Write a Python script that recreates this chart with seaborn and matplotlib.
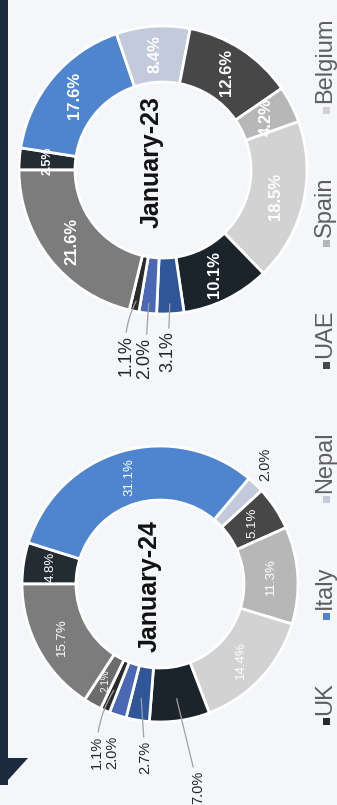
import matplotlib
matplotlib.use("Agg")
import matplotlib.pyplot as plt
from matplotlib.patches import Rectangle, Polygon
import numpy as np
import seaborn as sns

# ---- data -------------------------------------------------------------
legend_countries = ["UK", "Italy", "Nepal", "UAE", "Spain", "Belgium"]
slice_colors = ["#242c33", "#4f84cf", "#c3cadb", "#474747", "#b7b7b7", "#d2d2d2",
                "#1b242b", "#2f5698", "#4a68b4", "#2b2b2b", "#6c6c6c", "#7c7c7c"]
jan24_values = [4.8, 31.1, 2.0, 5.1, 11.3, 14.4, 7.0, 2.7, 2.0, 1.1, 2.1, 15.7]
jan23_values = [2.5, 17.6, 8.4, 12.6, 4.2, 18.5, 10.1, 3.1, 2.0, 1.1, 0.0, 21.6]
titles = ["January-24", "January-23"]

# ---- style ------------------------------------------------------------
sns.set_style("white")
plt.rcParams["font.family"] = ["Liberation Sans", "DejaVu Sans"]
BG = "#f4f6f9"

W, H = 337, 805
fig = plt.figure(figsize=(W / 100, H / 100), dpi=100, facecolor=BG)
ax = fig.add_axes([0, 0, 1, 1])
ax.set_facecolor(BG)


def donut(values, center, r_out, r_in, title, title_pos, in_size, in_weight,
          ext_layout, ext_size):
    cx, cy = center
    idx = [i for i, v in enumerate(values) if v > 0]
    wedges, _ = ax.pie([values[i] for i in idx],
                       colors=[slice_colors[i] for i in idx],
                       startangle=180, counterclock=True,
                       radius=r_out, center=center,
                       wedgeprops=dict(width=r_out - r_in, edgecolor="white",
                                       linewidth=2))
    for w, i in zip(wedges, idx):
        mid = np.deg2rad((w.theta1 + w.theta2) / 2)
        label = f"{values[i]:.1f}%"
        if i in ext_layout:
            dx, dy, leader, rfrac, rad = ext_layout[i]
            tx, ty = cx + dx, cy + dy
            if leader:
                px = cx + r_out * rfrac * np.cos(mid)
                py = cy + r_out * rfrac * np.sin(mid)
                ax.annotate(label, xy=(px, py), xytext=(tx, ty), rotation=90,
                            ha="center", va="center", fontsize=ext_size,
                            color="#262626",
                            arrowprops=dict(arrowstyle="-", color="#a0a0a0",
                                            lw=0.9, shrinkA=0, shrinkB=0,
                                            connectionstyle=f"arc3,rad={rad}"))
            else:
                ax.text(tx, ty, label, rotation=90, ha="center", va="center",
                        fontsize=ext_size, color="#262626")
        else:
            r = (r_out + r_in) / 2
            fs = in_size if values[i] >= 3 else in_size * 0.75
            ax.text(cx + r * np.cos(mid), cy + r * np.sin(mid), label,
                    rotation=90, ha="center", va="center", fontsize=fs,
                    color="white", fontweight=in_weight)
    ax.text(title_pos[0], title_pos[1], title, rotation=90, ha="center",
            va="center", fontsize=18, fontweight="bold", color="#111111")


# January-24 donut
donut(jan24_values, (160, 584), 138, 84, titles[0], (150, 586), 9.5, "normal",
      {2: (105, -120, False, 1.0, 0),
       6: (38, 203, True, 0.84, 0),
       7: (-15, 173, True, 0.84, 0),
       8: (-48, 168, False, 0.84, 0),
       9: (-63, 168, True, 0.84, -0.15)}, 10.5)

# January-23 donut
donut(jan23_values, (163, 170), 144, 88, titles[1], (152, 162), 12, "bold",
      {7: (5, 182, True, 0.93, 0),
       8: (-18, 188, True, 0.93, 0),
       9: (-37, 186, True, 0.93, -0.15)}, 13)

ax.set_xlim(0, W)
ax.set_ylim(H, 0)
ax.set_aspect("equal")
ax.axis("off")

# header band on the left edge
band = "#1c2b40"
ax.add_patch(Rectangle((0, 0), 8, 785, color=band, lw=0))
ax.add_patch(Polygon([(8, 758), (28, 758), (8, 780)], closed=True,
                     color=band, lw=0))

# legend along the right edge, reading upwards
fig.canvas.draw()
renderer = fig.canvas.get_renderer()
y = 722
for name, color in zip(legend_countries, slice_colors[:6]):
    ax.add_patch(Rectangle((323, y - 3.5), 7, 7, color=color, lw=0))
    t = ax.text(331, y - 7, name, rotation=90, rotation_mode="anchor",
                ha="left", va="baseline", fontsize=17, color="#5e5e5e")
    bb = t.get_window_extent(renderer)
    y = y - 7 - bb.height - 66

fig.savefig("out.png", dpi=100, facecolor=BG)
